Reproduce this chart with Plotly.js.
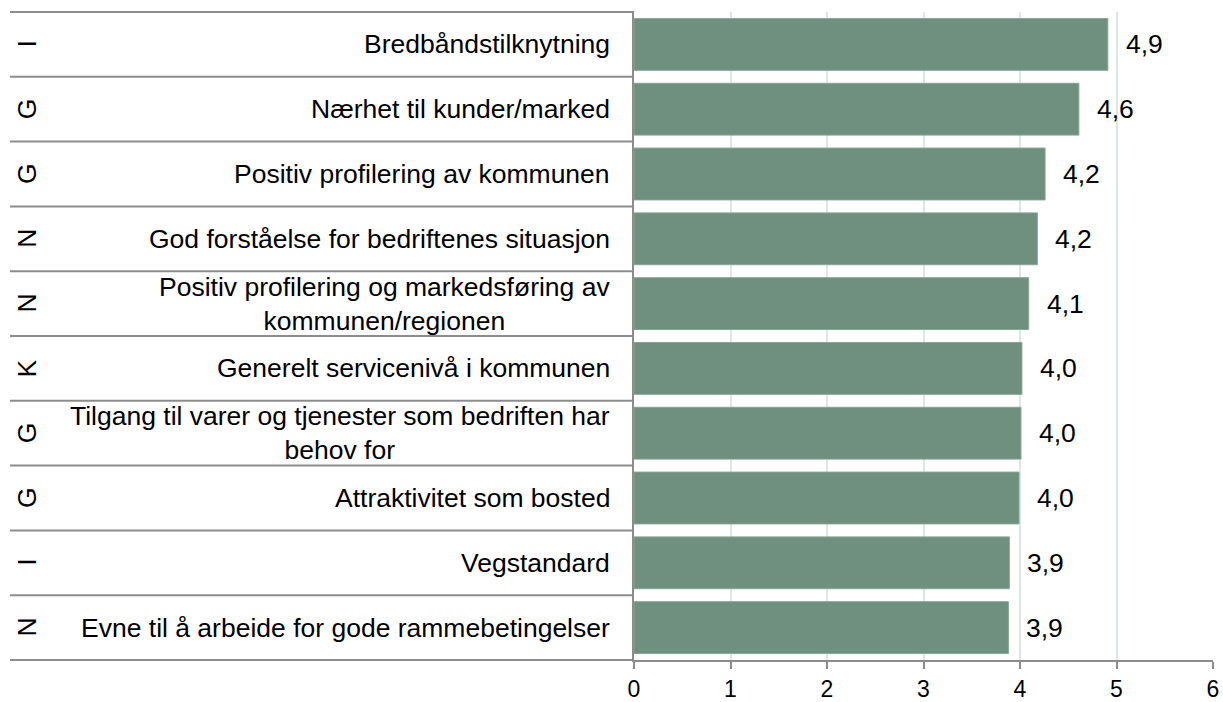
<!DOCTYPE html>
<html>
<head>
<meta charset="utf-8">
<script src="https://cdn.plot.ly/plotly-3.0.1.min.js"></script>
<style>
  html, body { margin: 0; padding: 0; background: #ffffff; }
  #chart { width: 1223px; height: 702px; }
</style>
</head>
<body>
<div id="chart"></div>
<script>
// ---- Data (top to bottom) ----
const categories = [
  "Bredbåndstilknytning",
  "Nærhet til kunder/marked",
  "Positiv profilering av kommunen",
  "God forståelse for bedriftenes situasjon",
  "Positiv profilering og markedsføring av<br>kommunen/regionen",
  "Generelt servicenivå i kommunen",
  "Tilgang til varer og tjenester som bedriften har<br>behov for",
  "Attraktivitet som bosted",
  "Vegstandard",
  "Evne til å arbeide for gode rammebetingelser"
];
const groupLetters = ["I", "G", "G", "N", "N", "K", "G", "G", "I", "N"];
const values = [4.91, 4.61, 4.26, 4.18, 4.09, 4.02, 4.01, 3.99, 3.89, 3.88];
const valueLabels = ["4,9", "4,6", "4,2", "4,2", "4,1", "4,0", "4,0", "4,0", "3,9", "3,9"];
const xTickVals = [0, 1, 2, 3, 4, 5, 6];
const xTickText = ["0", "1", "2", "3", "4", "5", "6"];

// ---- Layout constants ----
const W = 1223, H = 702;
const mL = 634, mR = 10, mT = 12, mB = 42;
const plotW = W - mL - mR;
const FONT = "Liberation Sans, Arial, Helvetica, sans-serif";
const FS = 26.5;
const TICK_FS = 23;
const lineCol = "#8c8c8c";
const tableLeftPx = 10;
const letterCenterPx = 27;
const labelRightPx = 612;

const px2paper = p => (p - mL) / plotW;

const trace = {
  type: "bar",
  orientation: "h",
  x: values,
  y: categories,
  marker: { color: "#6f8f7f", line: { color: "#87a596", width: 1 } },
  hoverinfo: "skip"
};

const shapes = [];
const n = categories.length;
for (let i = 0; i <= n; i++) {
  shapes.push({
    type: "line", xref: "paper", yref: "paper",
    x0: px2paper(tableLeftPx), x1: 0, y0: i / n, y1: i / n,
    line: { color: lineCol, width: 2 }
  });
}

const annotations = [];
categories.forEach((c, i) => {
  annotations.push({
    xref: "paper", yref: "y", x: px2paper(labelRightPx), y: c,
    xanchor: "right", yanchor: "middle", align: "center",
    text: c, showarrow: false,
    font: { family: FONT, size: FS, color: "#000000" }
  });
  annotations.push({
    xref: "paper", yref: "y", x: px2paper(letterCenterPx), y: c,
    xanchor: "center", yanchor: "middle", textangle: -90,
    text: groupLetters[i], showarrow: false,
    font: { family: FONT, size: FS, color: "#000000" }
  });
  annotations.push({
    xref: "x", yref: "y", x: values[i], y: c,
    xanchor: "left", yanchor: "middle", xshift: 16,
    text: valueLabels[i], showarrow: false,
    font: { family: FONT, size: FS, color: "#000000" }
  });
});

const layout = {
  width: W, height: H,
  margin: { l: mL, r: mR, t: mT, b: mB, pad: 0 },
  paper_bgcolor: "#ffffff",
  plot_bgcolor: "#ffffff",
  showlegend: false,
  bargap: 0.2,
  font: { family: FONT, size: FS, color: "#000000" },
  xaxis: {
    range: [0, 6],
    tickvals: xTickVals,
    ticktext: xTickText,
    showgrid: true,
    gridcolor: "#dfe7e4",
    gridwidth: 2,
    zeroline: false,
    showline: true,
    linecolor: lineCol,
    linewidth: 2,
    ticks: "outside",
    ticklen: 7,
    tickwidth: 2,
    tickcolor: lineCol,
    ticklabelstandoff: 0,
    tickfont: { family: FONT, size: TICK_FS, color: "#000000" },
    fixedrange: true
  },
  yaxis: {
    type: "category",
    autorange: "reversed",
    showticklabels: false,
    showgrid: false,
    zeroline: false,
    showline: true,
    linecolor: lineCol,
    linewidth: 2,
    ticks: "",
    fixedrange: true
  },
  shapes: shapes,
  annotations: annotations
};

Plotly.newPlot("chart", [trace], layout, { staticPlot: true, displayModeBar: false });
</script>
</body>
</html>
